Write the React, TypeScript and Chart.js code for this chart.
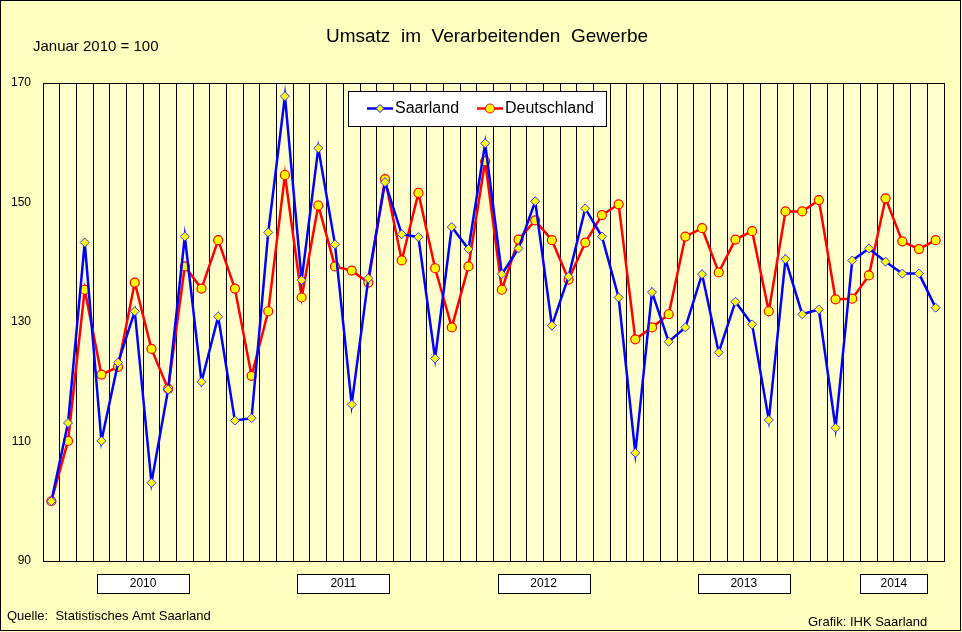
import React, { useEffect, useRef } from "react";
import { Chart, registerables } from "chart.js";
Chart.register(...registerables);

const years = ["2010", "2011", "2012", "2013", "2014"];
const monthsPerYear = [12, 12, 12, 12, 6];
const saarland = [100, 113.1, 143.3, 110.1, 123.2, 131.8, 103.1, 118.7, 144.3, 120, 130.9, 113.5, 113.9, 145, 167.8, 137, 159.1, 143,
  116.2, 137.3, 153.4, 144.7, 144.2, 123.9, 145.9, 142.2, 159.9, 138, 142.3, 150.2, 129.4, 137.6, 149, 144.3, 134.1, 108.1,
  135, 126.7, 129.1, 138, 124.9, 133.4, 129.6, 113.6, 140.5, 131.3, 132.1, 112.3, 140.3, 142.3, 140.1, 138.1, 138.1, 132.4];
const deutschland = [100, 110.1, 135.4, 121.2, 122.5, 136.6, 125.5, 118.8, 139.3, 135.6, 143.7, 135.6, 121, 131.8, 154.6, 134.1, 149.5, 139.3,
  138.6, 136.6, 153.9, 140.3, 151.6, 139, 129.1, 139.3, 156.9, 135.4, 143.8, 147, 143.7, 137.1, 143.3, 147.9, 149.7, 127.1,
  129.1, 131.3, 144.3, 145.7, 138.3, 143.8, 145.2, 131.8, 148.5, 148.5, 150.4, 133.8, 133.9, 137.8, 150.7, 143.5, 142.2, 143.7];
const yTicks = [90, 110, 130, 150, 170];

const labels: string[] = [];
years.forEach((y, i) => { for (let m = 1; m <= monthsPerYear[i]; m++) labels.push(m + "/" + y); });

const FONT = "Arial, 'Liberation Sans', sans-serif";

export default function App() {
  const ref = useRef<HTMLCanvasElement>(null);
  useEffect(() => {
    document.body.style.margin = "0";
    const deco = {
      id: "deco",
      beforeDraw(c: any) {
        const ctx = c.ctx;
        ctx.save();
        ctx.fillStyle = "#FFFFC0";
        ctx.fillRect(0, 0, c.width, c.height);
        const a = c.chartArea;
        ctx.fillStyle = "#FFFFCC";
        ctx.fillRect(a.left, a.top, a.right - a.left, a.bottom - a.top);
        ctx.restore();
      },
      afterDraw(c: any) {
        const ctx = c.ctx;
        const a = c.chartArea;
        const x = c.scales.x;
        ctx.save();
        ctx.strokeStyle = "#000";
        ctx.lineWidth = 1;
        ctx.strokeRect(a.left + 0.5, a.top + 0.5, a.right - a.left, a.bottom - a.top);
        ctx.strokeRect(0.5, 0.5, 960, 630);
        ctx.fillStyle = "#000";
        ctx.textBaseline = "middle";
        ctx.font = "19px " + FONT;
        ctx.textAlign = "center";
        ctx.fillText("Umsatz  im  Verarbeitenden  Gewerbe", 487, 37);
        ctx.font = "15px " + FONT;
        ctx.textAlign = "left";
        ctx.fillText("Januar 2010 = 100", 33, 47);
        ctx.font = "13px " + FONT;
        ctx.fillText("Quelle:  Statistisches Amt Saarland", 7, 616);
        ctx.fillText("Grafik: IHK Saarland", 808, 622);
        // year boxes
        let start = 0;
        years.forEach((y, i) => {
          const n = monthsPerYear[i];
          const cx = (x.getPixelForValue(start) + x.getPixelForValue(start + n - 1)) / 2;
          const w = i === 4 ? 67 : 92;
          ctx.fillStyle = "#fff";
          ctx.fillRect(cx - w / 2, 574, w, 19);
          ctx.strokeRect(Math.round(cx - w / 2) + 0.5, 574.5, w, 19);
          ctx.fillStyle = "#000";
          ctx.textAlign = "center";
          ctx.font = "12px " + FONT;
          ctx.fillText(y, cx, 584);
          start += n;
        });
        // legend
        ctx.fillStyle = "#fff";
        ctx.fillRect(348, 91, 258, 35);
        ctx.strokeRect(348.5, 91.5, 258, 35);
        const items = [
          { t: "Saarland", c: "#0000FF", x: 367, shape: "d" },
          { t: "Deutschland", c: "#FF0000", x: 477, shape: "c" },
        ];
        items.forEach((it) => {
          ctx.strokeStyle = it.c;
          ctx.lineWidth = 2.5;
          ctx.beginPath();
          ctx.moveTo(it.x, 108.5);
          ctx.lineTo(it.x + 26, 108.5);
          ctx.stroke();
          ctx.fillStyle = "#FFFF00";
          ctx.lineWidth = 1;
          ctx.beginPath();
          const mx = it.x + 13;
          if (it.shape === "d") {
            ctx.moveTo(mx, 104.5); ctx.lineTo(mx + 4, 108.5); ctx.lineTo(mx, 112.5); ctx.lineTo(mx - 4, 108.5); ctx.closePath();
          } else {
            ctx.arc(mx, 108.5, 4.5, 0, Math.PI * 2);
          }
          ctx.fill();
          ctx.stroke();
          ctx.fillStyle = "#000";
          ctx.textAlign = "left";
          ctx.font = "16px " + FONT;
          ctx.fillText(it.t, it.x + 28, 109);
        });
        ctx.restore();
      },
    };
    const chart = new Chart(ref.current!, {
      type: "line",
      data: {
        labels,
        datasets: [
          {
            label: "Saarland", data: saarland, borderColor: "#0000FF", borderWidth: 2.5,
            pointStyle: "rectRot", pointRadius: 4.5, pointBackgroundColor: "#FFFF00", pointBorderColor: "#3333FF", pointBorderWidth: 1, tension: 0,
          },
          {
            label: "Deutschland", data: deutschland, borderColor: "#FF0000", borderWidth: 2.5,
            pointStyle: "circle", pointRadius: 4.5, pointBackgroundColor: "#FFFF00", pointBorderColor: "#FF0000", pointBorderWidth: 1.2, tension: 0,
          },
        ],
      },
      options: {
        responsive: false,
        animation: false,
        layout: { padding: { top: 83, bottom: 71, left: 0, right: 18 } },
        plugins: { legend: { display: false }, tooltip: { enabled: false }, title: { display: false } },
        scales: {
          x: {
            offset: true,
            ticks: { display: false },
            grid: { offset: true, color: "#000", lineWidth: 1, drawTicks: false },
            border: { display: false },
          },
          y: {
            min: 90, max: 170,
            afterFit: (s: any) => { s.width = 43; },
            afterBuildTicks: (s: any) => { s.ticks = yTicks.map((v) => ({ value: v })); },
            ticks: { color: "#000", font: { family: FONT, size: 12 }, padding: 4 },
            grid: { display: false },
            border: { display: false },
          },
        },
      },
      plugins: [deco],
    });
    return () => chart.destroy();
  }, []);
  return <canvas ref={ref} width={962} height={632} style={{ display: "block" }} />;
}
